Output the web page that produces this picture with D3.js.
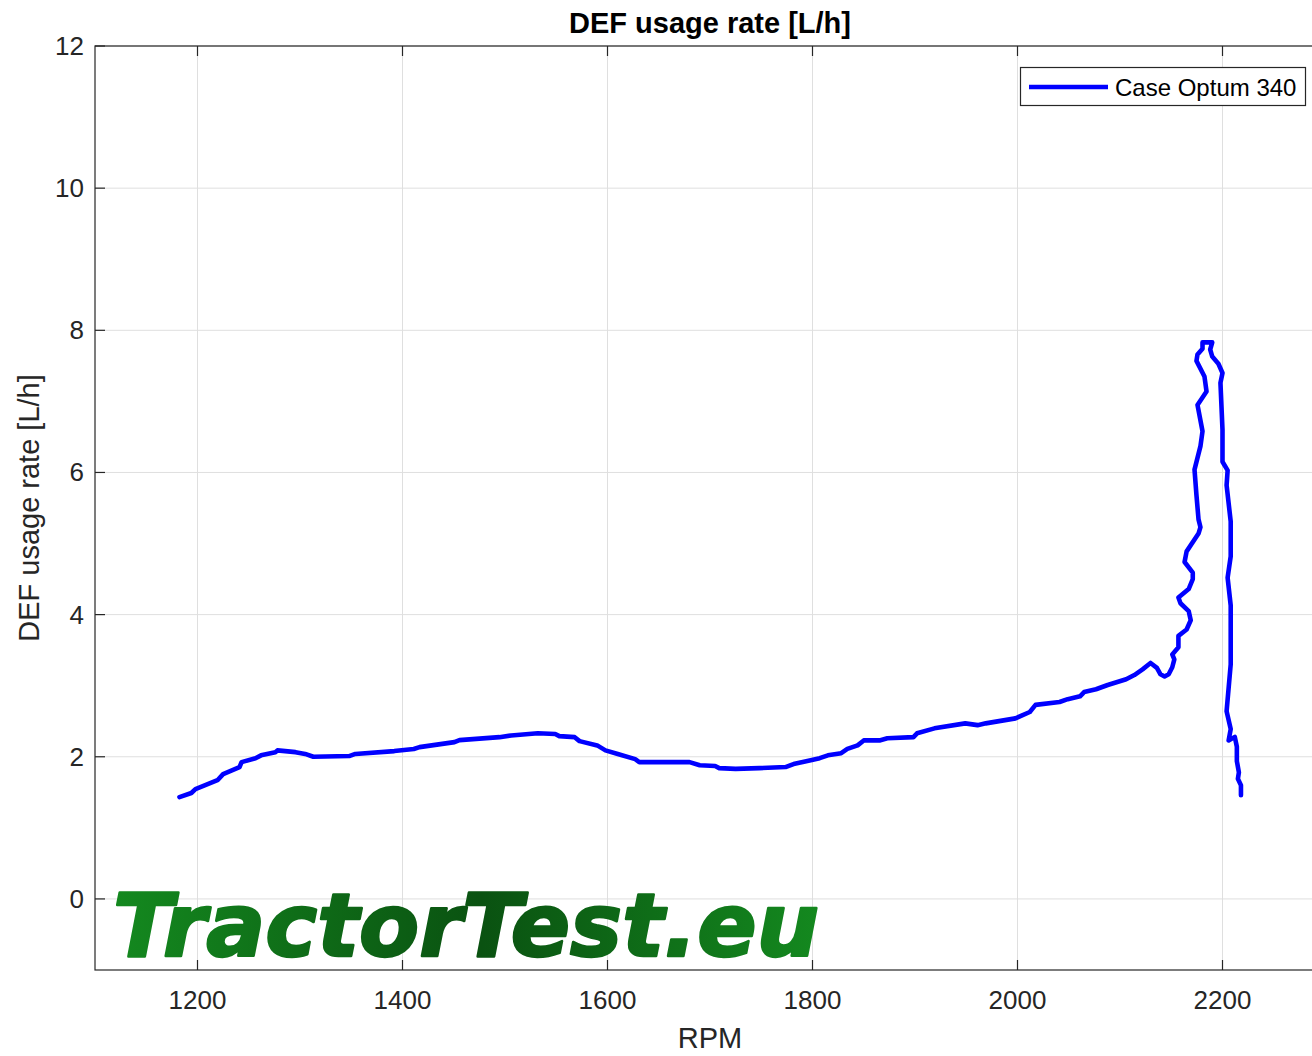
<!DOCTYPE html>
<html>
<head>
<meta charset="utf-8">
<script src="https://cdn.jsdelivr.net/npm/d3@7"></script>
<style>
  html, body { margin: 0; padding: 0; background: #fff; }
  svg { display: block; }
  text { font-family: "Liberation Sans", Arial, sans-serif; fill: #262626; }
</style>
</head>
<body>
<svg id="chart" width="1312" height="1056"></svg>
<script>
const title = "DEF usage rate [L/h]";
const xLabel = "RPM";
const yLabel = "DEF usage rate [L/h]";
const seriesName = "Case Optum 340";
const xTicks = [1200, 1400, 1600, 1800, 2000, 2200];
const yTicks = [0, 2, 4, 6, 8, 10, 12];

const rpm = [1182.4,1194,1198,1219.5,1225,1241,1243,1256.6,1262,1276,1278,1295.6,1305,1313,1348,1354,1392,1411,1416.6,1450.7,1455.6,1494.6,1506,1532,1549,1553,1568,1572.7,1590,1598,1610,1627,1631,1680,1690,1705,1709,1725,1748,1773.7,1781.5,1795,1807,1815,1828,1834,1844,1850,1865.4,1873,1898.5,1902,1919,1949,1961,1969,1998,2012,2017.6,2041,2049,2061,2065,2076.6,2088,2106,2114,2122,2129.8,2136,2139.5,2143.5,2147.5,2151,2153,2151,2157,2157,2165,2169,2167,2159,2157,2167,2171,2171,2163,2165,2176.6,2178.5,2176.6,2174.6,2172.7,2178.5,2180.5,2175.6,2184.4,2182.4,2174.6,2175.6,2180.5,2180.5,2190,2188,2190,2196,2200,2198,2200,2200,2205,2204,2208,2208,2205,2208,2208,2204,2208,2206,2212,2214,2214,2216,2215,2218,2218];
const rate = [1.433,1.49,1.545,1.67,1.756,1.855,1.925,1.98,2.02,2.065,2.09,2.065,2.04,2.0,2.01,2.04,2.08,2.11,2.136,2.206,2.234,2.276,2.30,2.33,2.32,2.29,2.276,2.22,2.16,2.09,2.04,1.967,1.925,1.925,1.88,1.87,1.84,1.83,1.84,1.855,1.897,1.94,1.98,2.02,2.05,2.11,2.16,2.23,2.23,2.26,2.276,2.33,2.40,2.47,2.445,2.47,2.54,2.63,2.73,2.77,2.81,2.85,2.91,2.95,3.01,3.09,3.15,3.23,3.32,3.25,3.16,3.13,3.16,3.26,3.37,3.44,3.54,3.70,3.79,3.92,4.05,4.16,4.24,4.36,4.50,4.59,4.74,4.89,5.14,5.23,5.34,5.68,6.04,6.37,6.58,6.95,7.14,7.35,7.57,7.66,7.74,7.83,7.83,7.73,7.63,7.53,7.40,7.26,6.60,6.15,6.03,5.82,5.31,4.82,4.52,4.13,3.30,2.64,2.39,2.23,2.28,2.14,1.94,1.78,1.69,1.60,1.46];

const svg = d3.select("#chart");
const L = 95, R = 1325, T = 46, B = 970;
const x = d3.scaleLinear().domain([1100, 2300]).range([L, R]);
const y = d3.scaleLinear().domain([-1, 12]).range([B, T]);

// grid
const g = svg.append("g");
g.selectAll(".gx").data(xTicks).join("line")
  .attr("x1", d => x(d)).attr("x2", d => x(d)).attr("y1", T).attr("y2", B)
  .attr("stroke", "#dfdfdf").attr("stroke-width", 1);
g.selectAll(".gy").data(yTicks).join("line")
  .attr("x1", L).attr("x2", R).attr("y1", d => y(d)).attr("y2", d => y(d))
  .attr("stroke", "#dfdfdf").attr("stroke-width", 1);

// watermark
const defs = svg.append("defs");
const grad = defs.append("linearGradient").attr("id", "wm")
  .attr("gradientUnits", "userSpaceOnUse")
  .attr("x1", 112).attr("x2", 822).attr("y1", 0).attr("y2", 0);
grad.append("stop").attr("offset", "0%").attr("stop-color", "#14891f");
grad.append("stop").attr("offset", "52%").attr("stop-color", "#0a5211");
grad.append("stop").attr("offset", "100%").attr("stop-color", "#14891f");
svg.append("text")
  .attr("x", 113).attr("y", 956)
  .attr("textLength", 706).attr("lengthAdjust", "spacingAndGlyphs")
  .style("font-family", "'DejaVu Sans', Verdana, sans-serif")
  .style("font-weight", "bold").style("font-style", "italic")
  .style("font-size", "87px").style("fill", "url(#wm)")
  .style("stroke", "url(#wm)").style("stroke-width", 2.5).style("stroke-linejoin", "round")
  .text("TractorTest.eu");

// line
defs.append("clipPath").attr("id", "clip")
  .append("rect").attr("x", L).attr("y", T).attr("width", R - L).attr("height", B - T);
const pts = rpm.map((r, i) => [r, rate[i]]);
svg.append("path")
  .attr("clip-path", "url(#clip)")
  .attr("d", d3.line().x(d => x(d[0])).y(d => y(d[1]))(pts))
  .attr("fill", "none").attr("stroke", "#0000ff").attr("stroke-width", 4.6)
  .attr("stroke-linejoin", "round").attr("stroke-linecap", "round");

// axes box
const ax = svg.append("g").attr("stroke", "#262626").attr("stroke-width", 1.2).attr("fill", "none");
ax.append("rect").attr("x", L).attr("y", T).attr("width", R - L).attr("height", B - T);
const tl = 10;
xTicks.forEach(t => {
  ax.append("line").attr("x1", x(t)).attr("x2", x(t)).attr("y1", B).attr("y2", B - tl);
  ax.append("line").attr("x1", x(t)).attr("x2", x(t)).attr("y1", T).attr("y2", T + tl);
});
yTicks.forEach(t => {
  ax.append("line").attr("x1", L).attr("x2", L + tl).attr("y1", y(t)).attr("y2", y(t));
  ax.append("line").attr("x1", R).attr("x2", R - tl).attr("y1", y(t)).attr("y2", y(t));
});

// tick labels
svg.selectAll(".xl").data(xTicks).join("text")
  .attr("x", d => x(d)).attr("y", 1009).attr("text-anchor", "middle")
  .style("font-size", "26px").text(d => d);
svg.selectAll(".yl").data(yTicks).join("text")
  .attr("x", 84).attr("y", d => y(d) + 9).attr("text-anchor", "end")
  .style("font-size", "26px").text(d => d);

// labels
svg.append("text").attr("x", 710).attr("y", 33).attr("text-anchor", "middle")
  .style("font-size", "29px").style("font-weight", "bold").style("fill", "#000").text(title);
svg.append("text").attr("x", 710).attr("y", 1048).attr("text-anchor", "middle")
  .style("font-size", "29px").text(xLabel);
svg.append("text").attr("transform", "translate(39,508) rotate(-90)").attr("text-anchor", "middle")
  .style("font-size", "29px").text(yLabel);

// legend
const lg = svg.append("g");
lg.append("rect").attr("x", 1020.5).attr("y", 67.5).attr("width", 285).attr("height", 38)
  .attr("fill", "#fff").attr("stroke", "#262626").attr("stroke-width", 1.2);
lg.append("line").attr("x1", 1029).attr("x2", 1108).attr("y1", 87).attr("y2", 87)
  .attr("stroke", "#0000ff").attr("stroke-width", 4.6);
lg.append("text").attr("x", 1115).attr("y", 96).style("font-size", "24px").style("fill", "#000").text(seriesName);
</script>
</body>
</html>
